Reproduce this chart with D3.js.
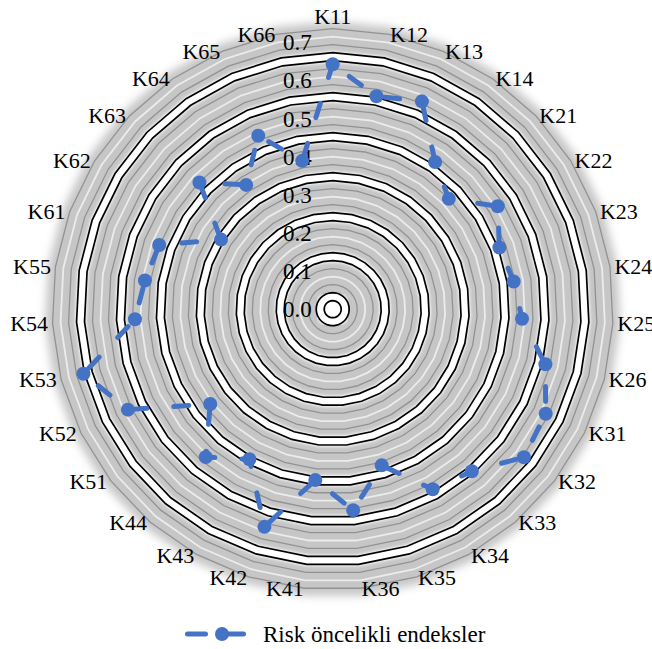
<!DOCTYPE html>
<html>
<head>
<meta charset="utf-8">
<script src="https://cdn.jsdelivr.net/npm/d3@7"></script>
<style>
  body { margin: 0; background: #fff; }
  text { font-family: "Liberation Serif", "Times New Roman", serif; fill: #000; }
</style>
</head>
<body>
<svg id="radarSVG" width="652" height="649"></svg>
<script>
// categories around the radar, clockwise from the top
var categories = ['K11', 'K12', 'K13', 'K14', 'K21', 'K22', 'K23', 'K24', 'K25', 'K26',
	'K31', 'K32', 'K33', 'K34', 'K35', 'K36', 'K41', 'K42', 'K43', 'K44',
	'K51', 'K52', 'K53', 'K54', 'K55', 'K61', 'K62', 'K63', 'K64', 'K65', 'K66'];

// "Risk öncelikli endeksler" values
var riskValues = [0.642, 0.570, 0.593, 0.470, 0.420, 0.510, 0.466, 0.480, 0.497, 0.576,
	0.622, 0.634, 0.560, 0.540, 0.429, 0.530, 0.450, 0.598, 0.450, 0.511,
	0.406, 0.598, 0.675, 0.519, 0.498, 0.485, 0.345, 0.482, 0.397, 0.495, 0.397];

var tickValues = [0, 0.1, 0.2, 0.3, 0.4, 0.5, 0.6, 0.7];
var seriesName = 'Risk öncelikli endeksler';

var center = { x: 332.7, y: 309.2 };
var outerRadius = 267;
var blue = '#4472C4';

var svg = d3.select('#radarSVG');

var rScale = d3.scaleLinear()
	.domain([0, 0.7])
	.range([0, outerRadius]);

var angleScale = d3.scaleLinear()
	.domain([0, categories.length])
	.range([0, 2 * Math.PI]);

// polygon with one vertex per category, radius in pixels
function polygonPoints(r) {
	return categories.map(function(d, i) {
		var a = angleScale(i);
		return [center.x + r * Math.sin(a), center.y - r * Math.cos(a)].join(',');
	}).join(' ');
}

var defs = svg.append('defs');
defs.append('filter').attr('id', 'softEdge')
	.attr('x', '-10%').attr('y', '-10%').attr('width', '120%').attr('height', '120%')
	.append('feGaussianBlur').attr('stdDeviation', 4.5);
defs.append('filter').attr('id', 'glow')
	.append('feGaussianBlur').attr('stdDeviation', 1.6);

////////// background //////////
var bg = svg.append('g').attr('id', 'background');

bg.append('polygon')
	.attr('points', polygonPoints(288))
	.attr('fill', '#c6c6c6')
	.attr('filter', 'url(#softEdge)');

// decorative concentric rings, 8px apart
var ringIndex = d3.range(1, 36);
function ringRadius(k) { return 0.5 + 8 * k; }

// white halo around every black pair
bg.selectAll('polygon.halo')
	.data(ringIndex.filter(function(k) { return k % 5 == 1; }))
	.enter()
	.append('polygon')
	.attr('class', 'halo')
	.attr('points', function(k) { return polygonPoints(ringRadius(k) + 4); })
	.attr('fill', 'none')
	.attr('stroke', '#fff')
	.attr('stroke-width', 11)
	.attr('filter', 'url(#glow)');

bg.append('circle')
	.attr('cx', center.x).attr('cy', center.y).attr('r', 9)
	.attr('fill', '#fff');

bg.selectAll('polygon.ring')
	.data(ringIndex)
	.enter()
	.append('polygon')
	.attr('class', 'ring')
	.attr('points', function(k) { return polygonPoints(ringRadius(k)); })
	.attr('fill', 'none')
	.attr('stroke', function(k) {
		var m = k % 5;
		if (m == 1 || m == 2) return '#000';
		if (m == 4) return '#ececec';
		return '#929292';
	})
	.attr('stroke-width', function(k) {
		var m = k % 5;
		if (m == 1 || m == 2) return 1.7;
		if (m == 4) return 1.8;
		return 1.3;
	});

////////// tick labels //////////
svg.append('g').attr('id', 'ticks')
	.selectAll('text')
	.data(tickValues)
	.enter()
	.append('text')
	.attr('x', center.x - 21)
	.attr('y', function(d) { return center.y - rScale(d); })
	.attr('dy', '0.35em')
	.attr('text-anchor', 'end')
	.attr('font-size', 23)
	.text(function(d) { return d.toFixed(1); });

////////// series //////////
var line = d3.lineRadial()
	.angle(function(d, i) { return angleScale(i); })
	.radius(function(d) { return rScale(d); })
	.curve(d3.curveLinearClosed);

var seriesG = svg.append('g')
	.attr('transform', 'translate(' + center.x + ',' + center.y + ')');

seriesG.append('path')
	.datum(riskValues)
	.attr('d', line)
	.attr('fill', 'none')
	.attr('stroke', blue)
	.attr('stroke-width', 5)
	.attr('stroke-linecap', 'round')
	.attr('stroke-dasharray', '15,27')
	.attr('stroke-dashoffset', 21.5);

seriesG.selectAll('circle')
	.data(riskValues)
	.enter()
	.append('circle')
	.attr('cx', function(d, i) { return rScale(d) * Math.sin(angleScale(i)); })
	.attr('cy', function(d, i) { return -rScale(d) * Math.cos(angleScale(i)); })
	.attr('r', 7)
	.attr('fill', blue);

////////// category labels //////////
svg.append('g').attr('id', 'categoryLabels')
	.selectAll('text')
	.data(categories)
	.enter()
	.append('text')
	.attr('font-size', 22)
	.attr('dy', '0.35em')
	.attr('text-anchor', function(d, i) {
		var s = Math.sin(angleScale(i));
		if (Math.abs(s) < 0.05) return 'middle';
		return s > 0 ? 'start' : 'end';
	})
	.attr('x', function(d, i) { return center.x + 285 * Math.sin(angleScale(i)); })
	.attr('y', function(d, i) {
		var a = angleScale(i);
		var extra = Math.abs(Math.sin(a)) < 0.05 ? 12 : 0;
		return center.y - (281 + extra) * Math.cos(a);
	})
	.text(function(d) { return d; });

////////// legend //////////
var legend = svg.append('g').attr('id', 'legend');
legend.append('line')
	.attr('x1', 187.5).attr('x2', 247.5)
	.attr('y1', 634).attr('y2', 634)
	.attr('stroke', blue)
	.attr('stroke-width', 5)
	.attr('stroke-linecap', 'round')
	.attr('stroke-dasharray', '18,20');
legend.append('circle')
	.attr('cx', 222).attr('cy', 634).attr('r', 7)
	.attr('fill', blue);
legend.append('text')
	.attr('x', 263).attr('y', 642)
	.attr('font-size', 23)
	.text(seriesName);
</script>
</body>
</html>
